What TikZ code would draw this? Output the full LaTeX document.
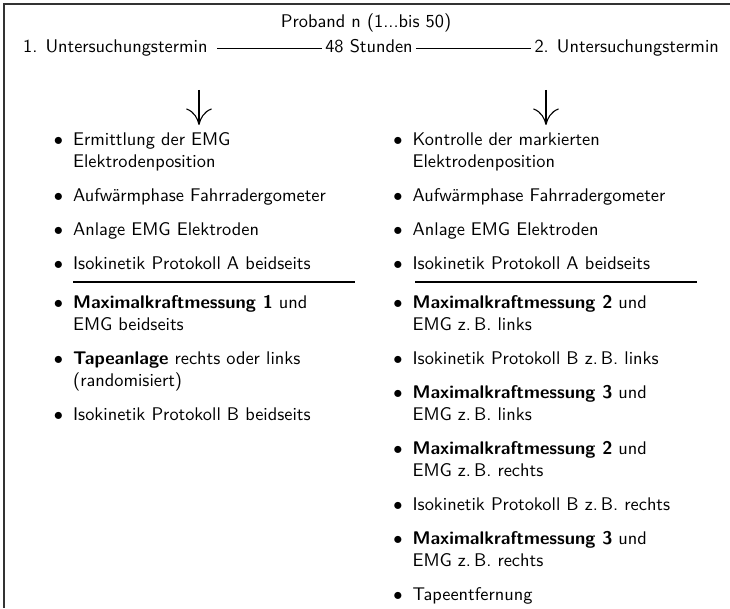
\documentclass[tikz,border=0pt]{standalone}
\usepackage{tikz}
\usetikzlibrary{arrows.meta}

\newcommand{\punkt}[1]{\begin{tabular}[t]{@{}l@{\hspace{5.5pt}}l@{}}$\bullet$ & #1\end{tabular}}

\begin{document}
\begin{tikzpicture}[x=0.545pt,y=-0.545pt,font=\sffamily,
  kopf/.style={inner sep=1.5pt,text height=7pt,text depth=2pt},
  liste/.style={anchor=base west,inner sep=0pt},
  pfeil/.style={-{Computer Modern Rightarrow[length=9pt,width=14pt]},line width=0.6pt},
  strich/.style={line width=0.9pt}]
  \useasboundingbox (0,0) rectangle (730,608);
  \draw[line width=0.8pt,black!80] (730,4) -- (4,4) -- (4,608);

  % Kopfzeile
  \node[kopf,anchor=base] (prob) at (366,28) {Proband n (1...bis 50)};
  \node[kopf,anchor=base west] (t1) at (20,53) {1. Untersuchungstermin};
  \node[kopf,anchor=base] (std) at (369,53) {48 Stunden};
  \node[kopf,anchor=base east] (t2) at (722,53) {2. Untersuchungstermin};
  \path [line width=0.6pt,shorten <=3.5pt] (t1) edge (std);
  \path [line width=0.6pt] (std) edge (t2);

  \coordinate (p1a) at (199,90);
  \coordinate (p1b) at (199,125);
  \coordinate (p2a) at (546,90);
  \coordinate (p2b) at (546,125);
  \path [pfeil] (p1a) edge (p1b);
  \path [pfeil] (p2a) edge (p2b);

  % 1. Termin
  \node[liste] (l1) at (53.5,145) {\punkt{Ermittlung der EMG\\ & Elektrodenposition}};
  \node[liste] (l2) at (53.5,201) {\punkt{Aufwärmphase Fahrradergometer}};
  \node[liste] (l3) at (53.5,235) {\punkt{Anlage EMG Elektroden}};
  \node[liste] (l4) at (53.5,269) {\punkt{Isokinetik Protokoll A beidseits}};
  \draw[strich] (73,282) -- (355,282);
  \node[liste] (l5) at (53.5,308) {\punkt{\textbf{Maximalkraftmessung 1} und\\ & EMG beidseits}};
  \node[liste] (l6) at (53.5,364) {\punkt{\textbf{Tapeanlage} rechts oder links\\ & (randomisiert)}};
  \node[liste] (l7) at (53.5,420) {\punkt{Isokinetik Protokoll B beidseits}};

  % 2. Termin
  \node[liste] (r1) at (393,145) {\punkt{Kontrolle der markierten\\ & Elektrodenposition}};
  \node[liste] (r2) at (393,201) {\punkt{Aufwärmphase Fahrradergometer}};
  \node[liste] (r3) at (393,235) {\punkt{Anlage EMG Elektroden}};
  \node[liste] (r4) at (393,269) {\punkt{Isokinetik Protokoll A beidseits}};
  \draw[strich] (415,282) -- (697,282);
  \node[liste] (r5) at (393,308) {\punkt{\textbf{Maximalkraftmessung 2} und\\ & EMG z.\,B. links}};
  \node[liste] (r6) at (393,364) {\punkt{Isokinetik Protokoll B z.\,B. links}};
  \node[liste] (r7) at (393,398) {\punkt{\textbf{Maximalkraftmessung 3} und\\ & EMG z.\,B. links}};
  \node[liste] (r8) at (393,454) {\punkt{\textbf{Maximalkraftmessung 2} und\\ & EMG z.\,B. rechts}};
  \node[liste] (r9) at (393,510) {\punkt{Isokinetik Protokoll B z.\,B. rechts}};
  \node[liste] (r10) at (393,544) {\punkt{\textbf{Maximalkraftmessung 3} und\\ & EMG z.\,B. rechts}};
  \node[liste] (r11) at (393,600) {\punkt{Tapeentfernung}};
\end{tikzpicture}
\end{document}
